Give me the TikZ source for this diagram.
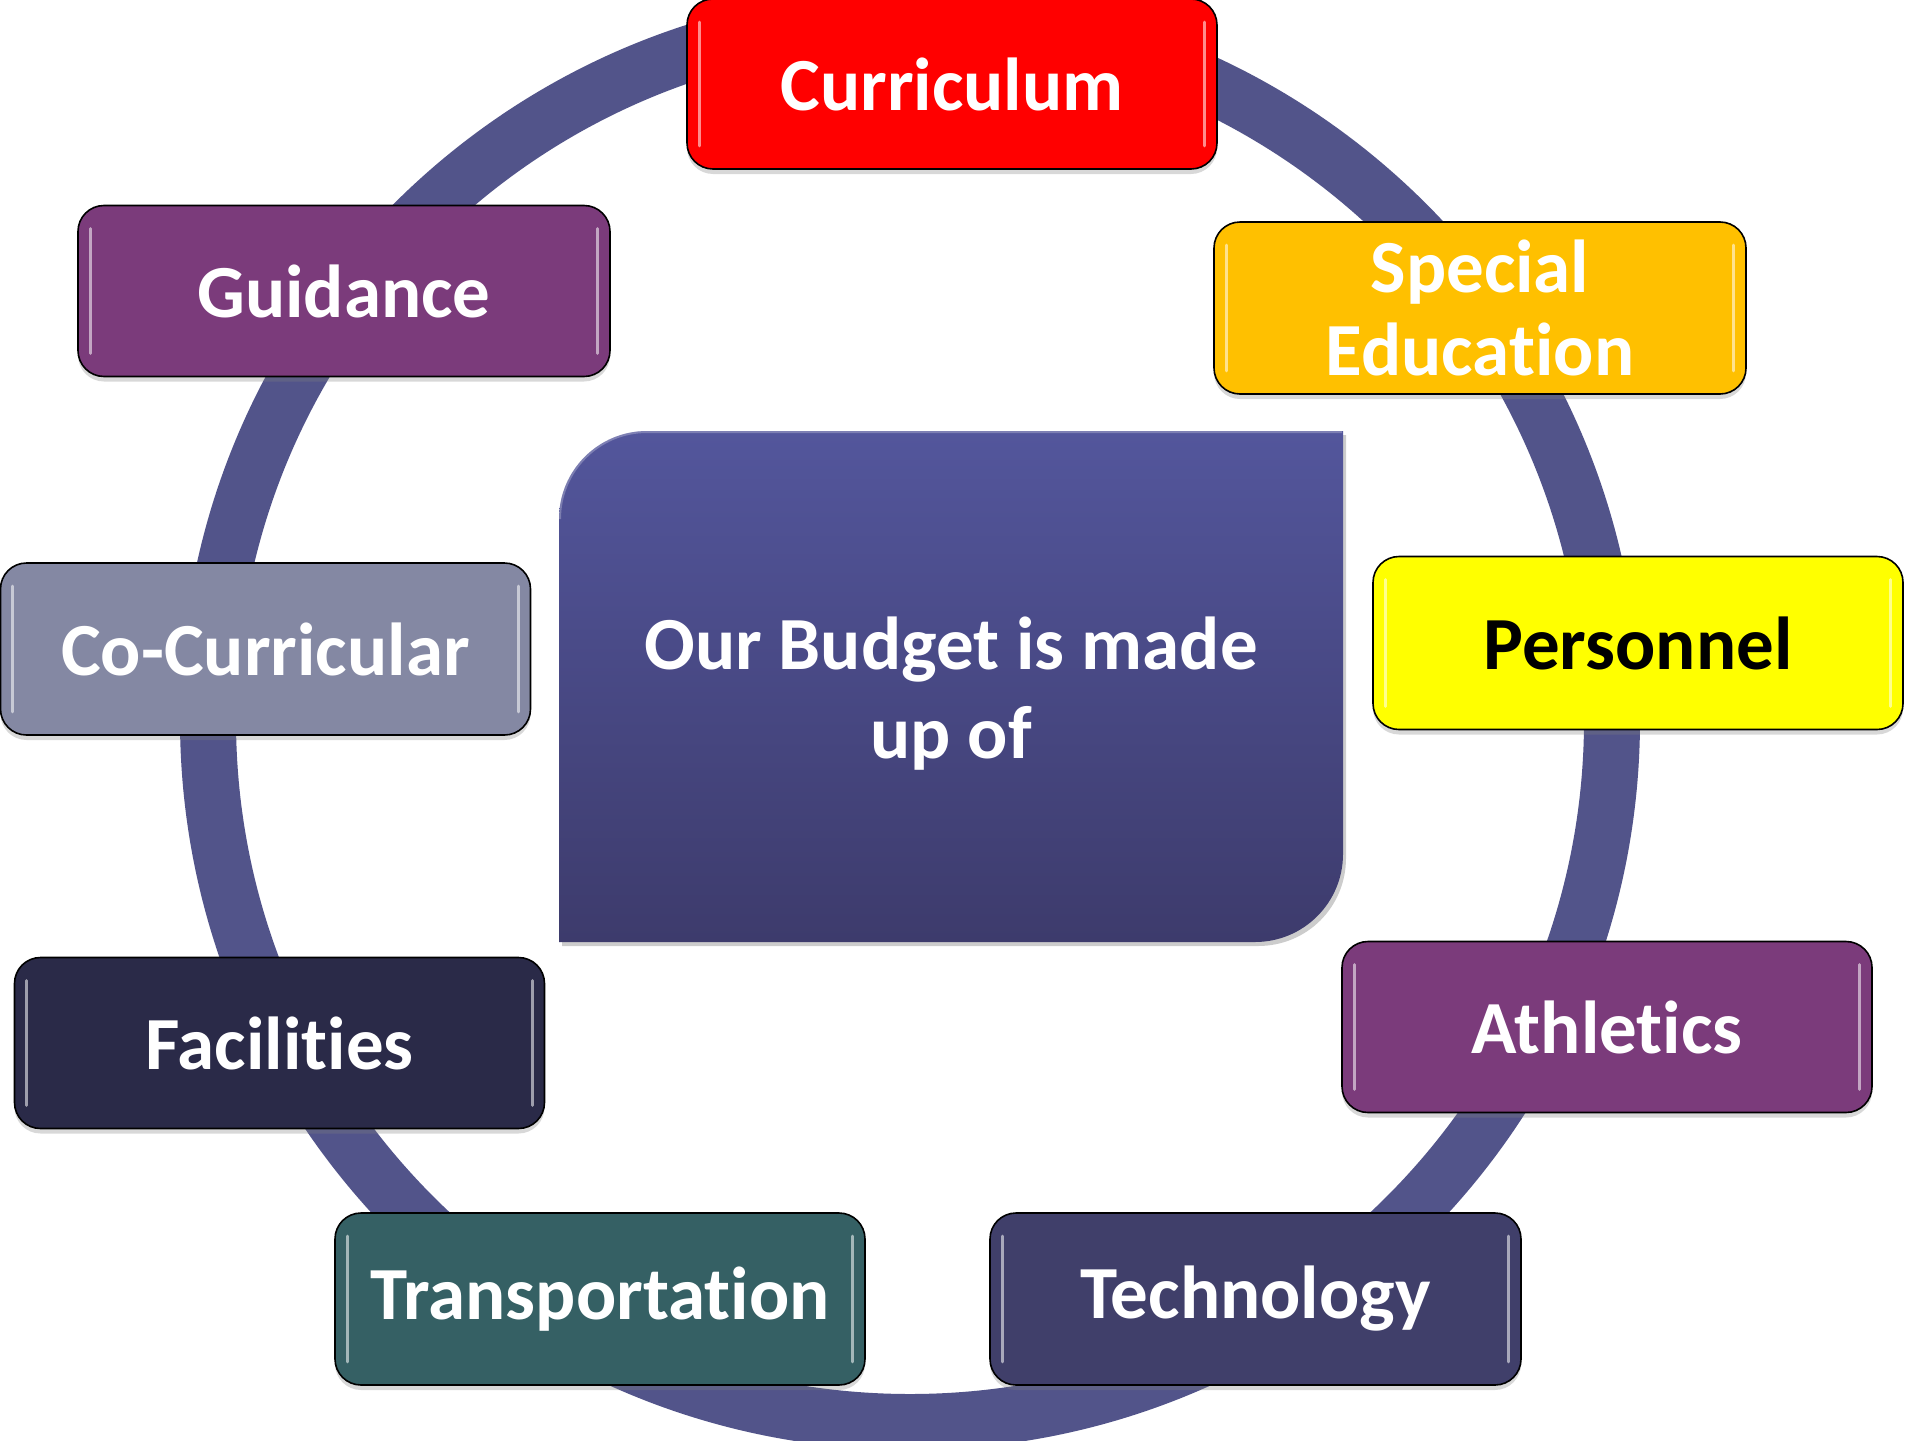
\documentclass[tikz,border=0pt]{standalone}
\usepackage{fontspec}
\setmainfont{Carlito}[Ligatures=NoCommon]
\usetikzlibrary{shadows}
\definecolor{ringc}{HTML}{52548A}
\definecolor{midtop}{HTML}{53569C}
\definecolor{midbot}{HTML}{3D3B6C}
\definecolor{cRed}{HTML}{FF0000}
\definecolor{cOrange}{HTML}{FFC000}
\definecolor{cYellow}{HTML}{FFFF00}
\definecolor{cPurple}{HTML}{7B3B7B}
\definecolor{cTech}{HTML}{403F6A}
\definecolor{cTeal}{HTML}{356064}
\definecolor{cFac}{HTML}{2A2A48}
\definecolor{cGray}{HTML}{8488A3}
\tikzset{
  gbox/.style={draw=black, line width=1.6pt, rounded corners=26pt,
    minimum width=530pt, minimum height=172pt, inner sep=0pt, text=white,
    font=\fontsize{75}{83}\selectfont\bfseries, align=center,
    drop shadow={opacity=0.3, shadow xshift=0pt, shadow yshift=-5pt}},
  hl/.style={white, opacity=0.55, line width=3pt, line cap=round},
  ring/.style={draw=ringc, line width=56pt},
}
\begin{document}
\begin{tikzpicture}[x=1pt,y=-1pt]
\useasboundingbox (0,0) rectangle (1905,1440);
\clip (0,0) rectangle (1905,1440);
\fill[white] (0,0) rectangle (1905,1440);
% ring
\draw[ring] (910,720) circle[radius=702pt];
% centre box
\fill[black, opacity=0.2] (562,946) -- (562,523) .. controls (562,474) and (601,435) .. (650,435) -- (1346,435) -- (1346,858) .. controls (1346,907) and (1307,946) .. (1258,946) -- cycle;
\shade[top color=midtop, bottom color=midbot] (559,942) -- (559,519) .. controls (559,470.4) and (598.4,431) .. (647,431) -- (1343,431) -- (1343,854) .. controls (1343,902.6) and (1303.6,942) .. (1255,942) -- cycle;
\draw[white, opacity=0.25, line width=2pt] (560,519) .. controls (560,471) and (599,432) .. (647,432) -- (1342,432);
\node[text=white, font=\fontsize{75}{89}\selectfont\bfseries, align=center] (mid) at (951,694) {Our Budget is made\\up of};
% boxes
\node[gbox, fill=cRed, minimum height=170pt] (cur) at (952,84) {Curriculum};
\node[gbox, fill=cOrange, minimum width=532pt] (spe) at (1480,308) {Special\\Education};
\node[gbox, fill=cYellow, text=black, minimum height=173pt] (per) at (1638,643) {Personnel};
\node[gbox, fill=cPurple, minimum height=171pt] (ath) at (1607,1027) {Athletics};
\node[gbox, fill=cTech, minimum width=531pt] (tec) at (1255.5,1299) {Technology};
\node[gbox, fill=cTeal] (tra) at (600,1299) {Transportation};
\node[gbox, fill=cFac, minimum height=171pt] (fac) at (279.5,1043) {Facilities};
\node[gbox, fill=cGray] (coc) at (265.5,649) {Co-Curricular};
\node[gbox, fill=cPurple, minimum width=532pt, minimum height=171pt] (gui) at (344,291) {Guidance};
% glossy highlights
\foreach \n in {cur,spe,per,ath,tec,tra,fac,coc,gui}{
  \draw[hl] ([xshift=13pt,yshift=-24pt]\n.north west) -- ([xshift=13pt,yshift=24pt]\n.south west);
  \draw[hl] ([xshift=-13pt,yshift=-24pt]\n.north east) -- ([xshift=-13pt,yshift=24pt]\n.south east);
}
\end{tikzpicture}
\end{document}
